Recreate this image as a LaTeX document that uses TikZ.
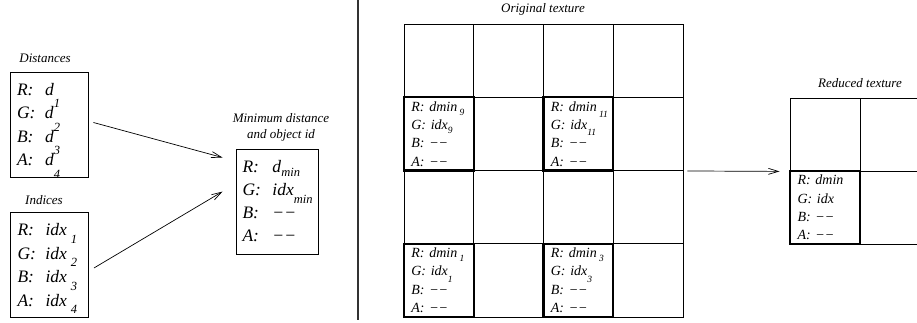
\documentclass[tikz,border=0pt]{standalone}
\usepackage{fontspec}
% every text in the figure is set in Times-like italic
\setmainfont{Liberation Serif}[UprightFont={* Italic}]
\usetikzlibrary{arrows.meta,calc}

% fixed-width label column ("R:", "G:", ...)
\newcommand{\lab}[2]{\makebox[#1][l]{#2}}
% lowered index in the large boxes (smashed: it must not widen the line spacing)
\newcommand{\bsub}[2][-0.72em]{\smash{\raisebox{#1}{\fontsize{12.5}{12.5}\selectfont #2}}}
% lowered index in the texture cells
\newcommand{\csub}[2][-0.3em]{\smash{\raisebox{#1}{\fontsize{9.5}{9.5}\selectfont #2}}}
% one line of a texel: label and value kept on one line
\newcommand{\texel}[2]{\mbox{#1:~#2}}

\begin{document}
\begin{tikzpicture}[x=1pt,y=-1pt,
  sidebox/.style={draw, line width=0.9pt, minimum width=78pt, minimum height=105pt,
    inner sep=0pt, text width=64pt, align=left, font=\fontsize{17.5}{23.5}\selectfont},
  caption/.style={font=\fontsize{13}{15}\selectfont, inner sep=0pt},
  cell/.style={draw, line width=0.9pt, minimum width=69.75pt, minimum height=73.25pt,
    inner sep=0pt, text width=55pt, align=left, font=\fontsize{14}{18.3}\selectfont},
  hot/.style={line width=2.2pt},
  flow/.style={-{Straight Barb[length=10pt,width=6pt]}, line width=0.7pt}
]
\useasboundingbox (0,0) rectangle (917,322);

% ---- left part: input values and the combined result ----
\node[caption] (distlab) at (45,58) {Distances};
\node[sidebox] (dist) at (49,124.5) {%
  \lab{28pt}{R:}d\bsub{1}\\
  \lab{28pt}{G:}d\bsub{2}\\
  \lab{28pt}{B:}d\bsub{3}\\
  \lab{28pt}{A:}d\bsub{4}};

\node[caption] (idxlab) at (44,200) {Indices};
\node[sidebox] (idx) at (49.5,265) {%
  \lab{28pt}{R:}idx\hspace{4pt}\bsub[-0.42em]{1}\\
  \lab{28pt}{G:}idx\hspace{4pt}\bsub[-0.42em]{2}\\
  \lab{28pt}{B:}idx\hspace{4pt}\bsub[-0.42em]{3}\\
  \lab{28pt}{A:}idx\hspace{4pt}\bsub[-0.42em]{4}};

\node[caption] (minlab1) at (281,118) {Minimum distance};
\node[caption] (minlab2) at (281,135) {and object id};
\node[sidebox, minimum width=82pt, text width=69pt, font=\fontsize{17.5}{23}\selectfont]
  (minbox) at (277,201.5) {%
  \lab{30pt}{R:}d\bsub[-0.2em]{min}\\
  \lab{30pt}{G:}idx\bsub[-0.42em]{min}\\
  \lab{30pt}{B:}−−\\
  \lab{30pt}{A:}−−};

\coordinate (in1) at ($(minbox.north west)+(-13,9)$);
\coordinate (in2) at ($(minbox.north west)+(-13,43)$);
\draw[flow] ($(dist.east)+(5,-2)$) -- (in1);
\draw[flow] ($(idx.east)+(5,3)$) -- (in2);

% separator
\draw[line width=1.2pt, draw=black!80] (358,0) -- (358,320);

% ---- original texture: 4x4 cells ----
\node[caption] (origlab) at (543,9) {Original texture};
\foreach \r/\c in {0/0,0/1,0/2,0/3,1/1,1/3,2/0,2/1,2/2,2/3,3/1,3/3}
  \node[cell] (o\r\c) at ({438.875+69.75*\c},{60.625+73.25*\r}) {};
\node[cell, hot] (o10) at (438.875,133.875)
  {\texel{R}{dmin\,\csub{9}}\\\texel{G}{idx\csub{9}}\\\texel{B}{−−}\\\texel{A}{−−}};
\node[cell, hot] (o12) at (578.375,133.875)
  {\texel{R}{dmin\,\csub[-0.45em]{11}}\\\texel{G}{idx\csub[-0.45em]{11}}\\\texel{B}{−−}\\\texel{A}{−−}};
\node[cell, hot] (o30) at (438.875,280.375)
  {\texel{R}{dmin\,\csub{1}}\\\texel{G}{idx\csub[-0.45em]{1}}\\\texel{B}{−−}\\\texel{A}{−−}};
\node[cell, hot] (o32) at (578.375,280.375)
  {\texel{R}{dmin\,\csub{3}}\\\texel{G}{idx\csub[-0.45em]{3}}\\\texel{B}{−−}\\\texel{A}{−−}};

% ---- reduced texture: 2x2 cells ----
\node[caption] (redlab) at (860,83) {Reduced texture};
\node[cell, minimum width=70pt, minimum height=73pt] (r00) at (825,134.5) {};
\node[cell, minimum width=70pt, minimum height=73pt] (r01) at (895,134.5) {};
\node[cell, minimum width=70pt, minimum height=73pt] (r11) at (895,207.5) {};
\node[cell, hot, minimum width=70pt, minimum height=73pt] (r10) at (825,207.5)
  {\texel{R}{dmin}\\\texel{G}{idx}\\\texel{B}{−−}\\\texel{A}{−−}};

\draw[flow, shorten <=4pt, shorten >=10pt] (o13.south east) -- (r00.south west);
\end{tikzpicture}
\end{document}
